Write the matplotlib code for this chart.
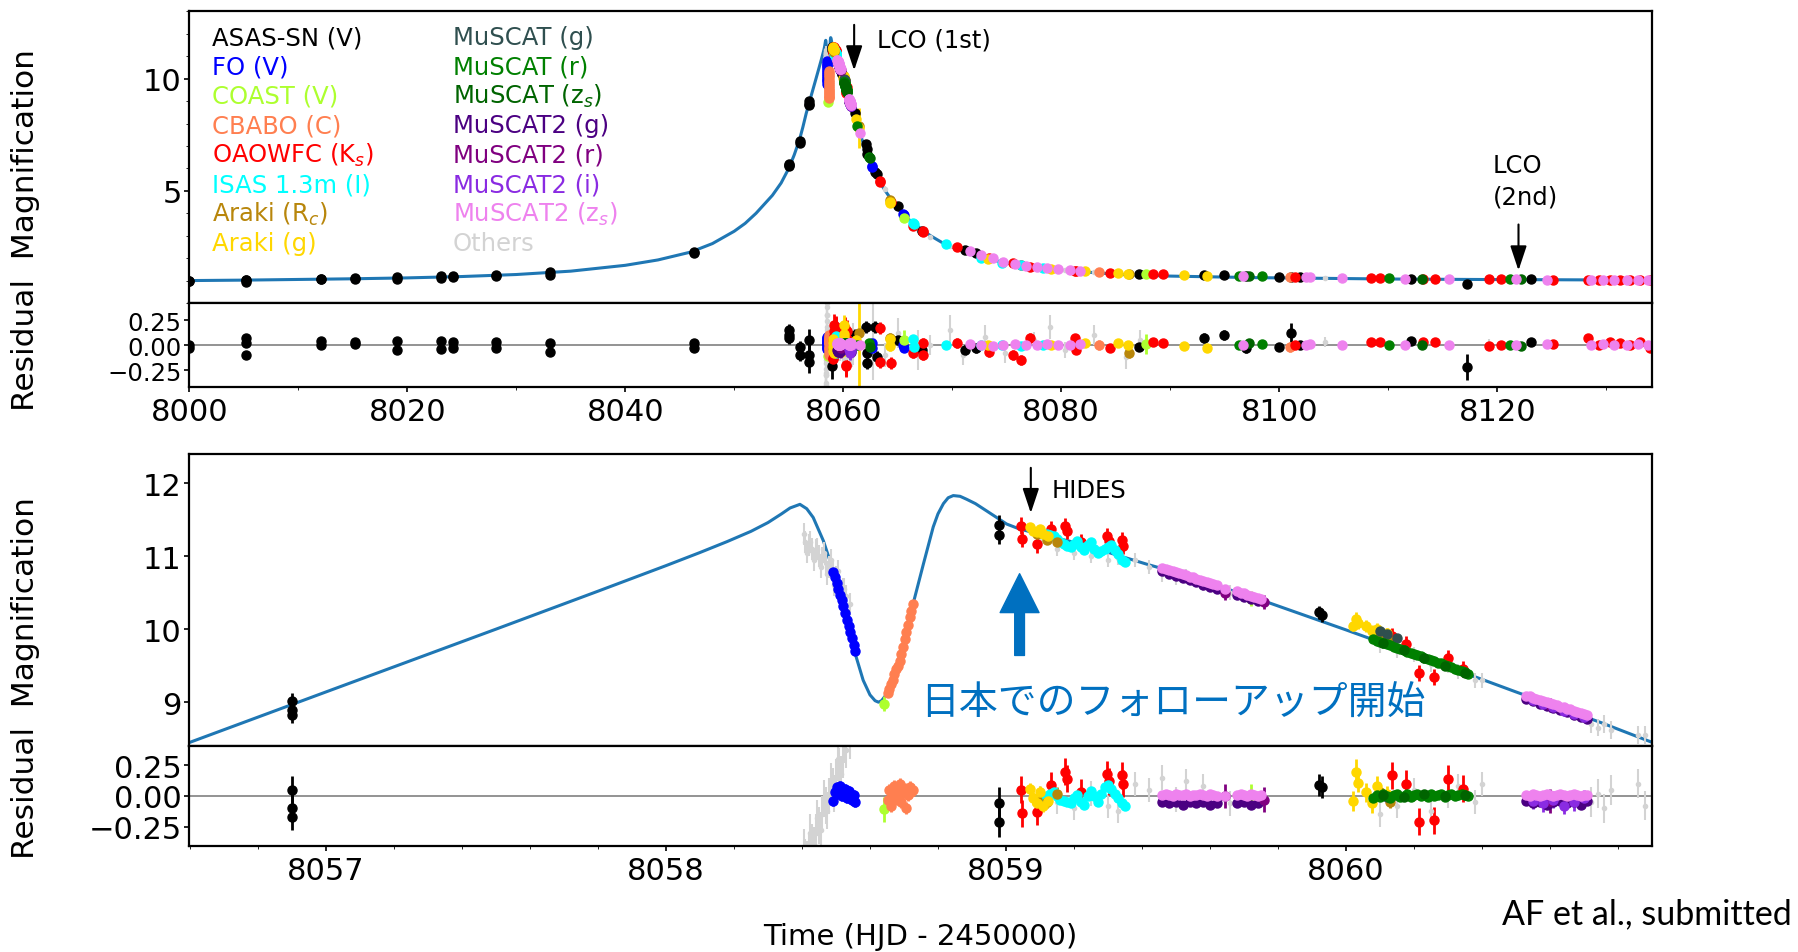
import matplotlib
matplotlib.use('Agg')
import matplotlib.pyplot as plt
from matplotlib.ticker import MultipleLocator

plt.rcParams['font.family'] = ['DejaVu Sans', 'Noto Sans CJK JP']

# ---- model light curve ----
early_t = [8000, 8005, 8010, 8015, 8020, 8025, 8030, 8035, 8040, 8043, 8046, 8048, 8050, 8051, 8052,
           8053.5, 8054.3, 8055, 8055.5, 8056, 8056.3]
early_a = [1.00, 1.02, 1.05, 1.08, 1.12, 1.18, 1.27, 1.42, 1.68, 1.92, 2.27, 2.65, 3.20, 3.55, 4.00,
           4.80, 5.35, 6.00, 6.60, 7.30, 7.85]
peak_t = [8056.60, 8057.00, 8057.50, 8057.80, 8058.00, 8058.10, 8058.18, 8058.25, 8058.30, 8058.34,
          8058.365, 8058.394, 8058.414, 8058.433, 8058.463, 8058.492, 8058.521, 8058.551, 8058.580,
          8058.600, 8058.615, 8058.625, 8058.634, 8058.654, 8058.688, 8058.727, 8058.757, 8058.786,
          8058.800, 8058.816, 8058.830, 8058.845, 8058.865, 8058.884, 8058.910, 8058.943, 8059.002,
          8059.041, 8059.120, 8059.218, 8059.316, 8059.414, 8059.512, 8059.750, 8060.000, 8060.250,
          8060.500, 8060.750, 8060.900]
peak_a = [8.45, 9.14, 10.00, 10.52, 10.87, 11.05, 11.20, 11.34, 11.46, 11.58,
          11.66, 11.71, 11.65, 11.53, 11.21, 10.80, 10.39, 9.75, 9.30,
          9.10, 9.02, 9.00, 9.02, 9.14, 9.57, 10.35, 10.89, 11.40,
          11.58, 11.72, 11.80, 11.83, 11.82, 11.78, 11.72, 11.62, 11.44,
          11.37, 11.28, 11.17, 11.03, 10.89, 10.76, 10.40, 9.99, 9.57,
          9.14, 8.72, 8.45]
late_t = [8061.5, 8062.0, 8062.6, 8063.2, 8063.9, 8065.0, 8066.2, 8068.0, 8069.4, 8071.0, 8072.6,
          8076.0, 8079.0, 8085.5, 8090.0, 8098.0, 8110.0, 8117.6, 8134.5]
late_a = [7.60, 6.90, 6.15, 5.50, 4.97, 4.20, 3.64, 3.00, 2.60, 2.30, 2.01,
          1.70, 1.49, 1.27, 1.20, 1.13, 1.07, 1.05, 1.02]

# ---- photometry: time, magnification, residual, error ----
asas_t = [8000.0, 8000.0, 8005.2, 8005.2, 8005.2, 8012.1, 8012.1, 8015.2, 8015.2, 8019.1, 8019.1,
          8023.1, 8023.1, 8024.2, 8024.2, 8028.1, 8028.1, 8033.1, 8033.1, 8046.3, 8046.3,
          8055.05, 8055.05, 8055.05, 8056.03, 8056.03, 8056.90, 8056.90, 8056.90, 8058.98, 8058.98,
          8059.92, 8059.93, 8061.07, 8062.05, 8062.15, 8062.2, 8062.95, 8063.06, 8065.06, 8067.2,
          8071.2, 8072.2, 8087.1, 8093.1, 8094.95, 8096.96, 8100.0, 8101.1, 8101.9, 8112.1, 8117.2, 8123.1]
asas_a = [1.00, 0.99, 1.04, 1.02, 0.94, 1.07, 1.05, 1.10, 1.08, 1.14, 1.08,
          1.20, 1.13, 1.20, 1.15, 1.27, 1.20, 1.37, 1.27, 2.27, 2.22,
          6.20, 6.15, 6.10, 7.22, 7.15, 9.02, 8.89, 8.82, 11.43, 11.29,
          10.23, 10.19, 8.45, 7.10, 6.85, 6.65, 5.85, 5.75, 4.32, 3.20,
          2.38, 2.22, 1.30, 1.25, 1.24, 1.21, 1.17, 1.18, 1.16, 1.08, 0.86, 1.05]
asas_r = [0.00, -0.03, 0.07, 0.02, -0.10, 0.04, 0.00, 0.03, 0.01, 0.04, -0.05,
          0.04, -0.04, 0.03, -0.03, 0.03, -0.03, 0.02, -0.07, 0.02, -0.03,
          0.15, 0.10, 0.07, -0.02, -0.10, 0.05, -0.10, -0.17, -0.06, -0.21,
          0.09, 0.07, 0.10, 0.18, -0.08, -0.18, 0.18, -0.12, 0.05, -0.05,
          -0.05, -0.03, -0.02, 0.07, 0.10, -0.03, -0.02, 0.12, 0.00, 0.04, -0.22, 0.03]
asas_e = [0.03, 0.03, 0.03, 0.03, 0.03, 0.03, 0.03, 0.03, 0.03, 0.03, 0.03,
          0.03, 0.03, 0.03, 0.03, 0.03, 0.03, 0.03, 0.03, 0.03, 0.03,
          0.06, 0.06, 0.06, 0.06, 0.06, 0.11, 0.11, 0.11, 0.13, 0.13,
          0.09, 0.09, 0.06, 0.06, 0.06, 0.06, 0.06, 0.06, 0.05, 0.05,
          0.05, 0.05, 0.04, 0.05, 0.05, 0.05, 0.04, 0.10, 0.04, 0.04, 0.13, 0.04]

fo_t = [8058.492, 8058.497, 8058.502, 8058.507, 8058.512, 8058.517, 8058.522, 8058.527, 8058.532,
        8058.537, 8058.542, 8058.547, 8058.552, 8058.556, 8062.60, 8062.65, 8065.50, 8065.55]
fo_a = [10.78, 10.71, 10.63, 10.55, 10.47, 10.40, 10.32, 10.22, 10.13,
        10.04, 9.96, 9.88, 9.78, 9.70, 6.10, 6.05, 3.95, 3.92]
fo_r = [-0.04, 0.03, 0.07, 0.02, 0.08, 0.00, 0.05, 0.06, -0.02,
        0.04, 0.02, -0.03, 0.01, -0.05, 0.02, -0.03, 0.00, -0.03]
fo_e = 0.04

coast_t = [8058.642, 8059.72, 8065.6, 8087.8]
coast_a = [8.98, 10.42, 3.80, 1.29]
coast_r = [-0.11, 0.00, 0.05, 0.01]
coast_e = 0.10

cbabo_t = [8058.652, 8058.657, 8058.662, 8058.667, 8058.672, 8058.677, 8058.682, 8058.687, 8058.692,
           8058.697, 8058.702, 8058.707, 8058.712, 8058.717, 8058.722, 8058.727, 8083.5, 8101.0]
cbabo_a = [9.13, 9.18, 9.25, 9.31, 9.38, 9.45, 9.50, 9.57, 9.66,
           9.76, 9.86, 9.96, 10.06, 10.16, 10.25, 10.34, 1.36, 1.17]
cbabo_r = [-0.03, 0.05, -0.08, 0.02, 0.08, -0.02, 0.04, 0.10, -0.05,
           0.03, 0.06, -0.10, 0.01, 0.07, 0.03, 0.05, 0.00, -0.02]
cbabo_e = 0.05

oao_t = [8059.043, 8059.047, 8059.092, 8059.133, 8059.175, 8059.180, 8059.220, 8059.298, 8059.302,
         8059.340, 8059.345, 8060.135, 8060.175, 8060.215, 8060.258, 8060.300, 8060.343,
         8063.37, 8063.40, 8064.4, 8066.4, 8067.3, 8067.35, 8070.4, 8073.4, 8075.6, 8076.3, 8077.1,
         8081.3, 8081.35, 8084.5, 8088.4, 8089.3, 8101.4, 8108.4, 8109.2, 8113.2, 8114.3, 8119.2,
         8120.3, 8125.1, 8128.3, 8129.3, 8130.3, 8131.3, 8132.2, 8133.1, 8134.0]
oao_a = [11.42, 11.24, 11.16, 11.37, 11.41, 11.34, 11.20, 11.28, 11.21,
         11.22, 11.14, 9.91, 9.79, 9.40, 9.35, 9.61, 9.45,
         5.45, 5.40, 4.52, 3.45, 3.20, 3.15, 2.50, 2.00, 1.78, 1.70, 1.62,
         1.43, 1.41, 1.34, 1.29, 1.28, 1.16, 1.11, 1.10, 1.08, 1.07, 1.05,
         1.05, 1.04, 1.04, 1.03, 1.03, 1.03, 1.03, 1.03, 1.02]
oao_r = [0.05, -0.14, -0.13, 0.09, 0.20, 0.14, 0.03, 0.18, 0.12,
         0.17, 0.10, 0.17, 0.10, -0.21, -0.20, 0.14, 0.06,
         0.17, -0.17, -0.18, -0.08, 0.02, -0.10, 0.02, -0.07, -0.10, -0.15, 0.07,
         0.07, -0.05, -0.03, 0.03, 0.02, 0.00, 0.03, 0.03, 0.03, 0.03, -0.01,
         0.00, 0.01, 0.07, 0.00, 0.03, 0.02, 0.00, 0.03, -0.03]
oao_e = [0.11, 0.11, 0.11, 0.11, 0.11, 0.11, 0.11, 0.11, 0.11,
         0.11, 0.11, 0.11, 0.11, 0.11, 0.11, 0.11, 0.11,
         0.06, 0.06, 0.06, 0.05, 0.05, 0.05, 0.05, 0.05, 0.05, 0.05, 0.05,
         0.04, 0.04, 0.04, 0.04, 0.04, 0.04, 0.04, 0.04, 0.04, 0.04, 0.04,
         0.04, 0.04, 0.04, 0.04, 0.04, 0.04, 0.04, 0.04, 0.04]

isas_t = [8059.11, 8059.12, 8059.13, 8059.14, 8059.15, 8059.16, 8059.17, 8059.18, 8059.19, 8059.20,
          8059.21, 8059.22, 8059.23, 8059.24, 8059.25, 8059.26, 8059.27, 8059.28, 8059.29, 8059.30,
          8059.31, 8059.32, 8059.33, 8059.34, 8059.35,
          8066.40, 8066.45, 8069.4, 8072.6, 8074.6, 8076.3, 8078.3]
isas_a = [11.31, 11.30, 11.29, 11.28, 11.23, 11.19, 11.17, 11.14, 11.12, 11.17,
          11.21, 11.12, 11.09, 11.15, 11.19, 11.10, 11.05, 11.07, 11.10, 11.13,
          11.15, 11.08, 11.03, 10.95, 10.92,
          3.55, 3.50, 2.62, 2.02, 1.80, 1.68, 1.55]
isas_r = [-0.02, 0.00, 0.02, 0.03, 0.00, -0.03, -0.04, -0.05, -0.06, -0.02,
          0.01, -0.05, -0.07, 0.00, 0.04, 0.00, -0.05, 0.02, 0.07, 0.09,
          0.06, 0.02, -0.02, -0.06, -0.08,
          0.06, -0.02, 0.00, 0.00, 0.00, -0.01, 0.00]
isas_e = 0.03

arc_t = [8059.09, 8059.12, 8059.15, 8060.10, 8060.13, 8061.4, 8064.3, 8086.2]
arc_a = [11.30, 11.22, 11.19, 9.93, 9.84, 7.90, 4.60, 1.28]
arc_r = [-0.03, -0.05, 0.02, 0.03, -0.05, 0.12, 0.07, -0.08]
arc_e = 0.05

arg_t = [8059.070, 8059.080, 8059.090, 8059.100, 8059.110, 8059.125, 8060.020, 8060.030, 8060.035,
         8060.060, 8060.075, 8060.090, 8060.120, 8061.20, 8061.41, 8064.25, 8064.30, 8073.3,
         8079.1, 8082.2, 8085.2, 8086.1, 8091.3, 8093.4]
arg_a = [11.40, 11.35, 11.33, 11.37, 11.30, 11.28, 10.05, 10.14, 10.08,
         10.04, 9.98, 10.00, 9.95, 8.20, 7.80, 4.52, 4.48, 1.95,
         1.50, 1.41, 1.35, 1.31, 1.25, 1.22]
arg_r = [0.06, -0.02, -0.06, 0.03, -0.08, -0.04, -0.04, 0.20, 0.11,
         0.03, -0.06, 0.08, 0.02, 0.05, 0.00, 0.06, -0.01, 0.00,
         0.00, 0.02, 0.02, 0.00, -0.01, -0.03]
arg_e = [0.05, 0.05, 0.05, 0.05, 0.05, 0.05, 0.08, 0.10, 0.08,
         0.08, 0.08, 0.08, 0.06, 0.06, 0.90, 0.05, 0.05, 0.04,
         0.04, 0.04, 0.04, 0.04, 0.04, 0.04]

msg_t = [8060.10, 8060.12, 8060.15]
msg_a = [9.97, 9.93, 9.88]
msg_r = [0.00, -0.01, 0.01]
msg_e = 0.03

msr_t = [8060.08, 8060.09, 8060.10, 8060.11, 8060.12, 8060.13, 8060.14, 8060.15, 8060.16, 8060.17,
         8060.18, 8060.19, 8060.20, 8060.21, 8060.22, 8060.23, 8060.24, 8060.25, 8060.26, 8060.27,
         8060.28, 8060.29, 8060.30, 8060.31, 8060.32, 8060.33, 8060.34, 8060.35, 8060.36,
         8061.3, 8062.4, 8096.3, 8098.4, 8110.1, 8121.2]
msr_a = [9.86, 9.84, 9.83, 9.81, 9.79, 9.78, 9.76, 9.74, 9.73, 9.71,
         9.69, 9.68, 9.66, 9.64, 9.63, 9.61, 9.59, 9.58, 9.56, 9.54,
         9.53, 9.51, 9.49, 9.48, 9.46, 9.44, 9.43, 9.41, 9.39,
         7.90, 6.50, 1.20, 1.19, 1.10, 1.05]
msr_r = [-0.02, 0.01, -0.01, 0.02, 0.00, -0.02, 0.01, 0.02, -0.01, 0.00,
         0.02, -0.01, 0.01, 0.02, 0.00, 0.01, -0.01, 0.02, 0.00, 0.01,
         0.02, -0.01, 0.01, 0.02, 0.00, 0.01, 0.02, 0.01, 0.00,
         0.00, 0.02, 0.00, 0.01, 0.00, 0.00]
msr_e = 0.02

mzs_t = [8060.11, 8060.17, 8060.23, 8060.29, 8060.35, 8062.45, 8097.2, 8113.1, 8122.2]
mzs_a = [9.81, 9.71, 9.61, 9.50, 9.40, 6.45, 1.20, 1.09, 1.05]
mzs_r = [0.01, -0.01, 0.02, 0.00, 0.01, -0.02, 0.02, 0.00, -0.01]
mzs_e = 0.02

m2g_t = [8059.46, 8059.48, 8059.50, 8059.52, 8059.54, 8059.56, 8059.58, 8059.60, 8059.62,
         8059.68, 8059.70, 8059.72, 8059.74,
         8060.53, 8060.55, 8060.57, 8060.59, 8060.61, 8060.63, 8060.65, 8060.67, 8060.69, 8060.71]
m2g_a = [10.79, 10.76, 10.73, 10.70, 10.67, 10.64, 10.61, 10.58, 10.55,
         10.47, 10.44, 10.41, 10.38,
         9.04, 9.01, 8.98, 8.95, 8.92, 8.89, 8.86, 8.83, 8.80, 8.77]
m2g_r = [-0.05, -0.06, -0.05, -0.07, -0.05, -0.06, -0.05, -0.07, -0.06,
         -0.06, -0.05, -0.07, -0.06,
         -0.04, -0.06, -0.05, -0.07, -0.05, -0.04, -0.06, -0.05, -0.07, -0.04]
m2g_e = 0.03

m2r_t = [8059.645, 8059.76, 8060.60]
m2r_a = [10.50, 10.37, 8.96]
m2r_r = [0.00, -0.03, -0.04]
m2r_e = 0.10

m2i_t = [8060.55, 8060.58, 8060.61, 8060.64, 8060.67, 8060.70]
m2i_a = [9.03, 8.98, 8.94, 8.88, 8.84, 8.80]
m2i_r = [-0.04, -0.06, -0.03, -0.08, -0.05, -0.02]
m2i_e = 0.07

m2z_t = [8059.46, 8059.47, 8059.48, 8059.49, 8059.50, 8059.51, 8059.52, 8059.53, 8059.54, 8059.55,
         8059.56, 8059.57, 8059.58, 8059.59, 8059.60, 8059.61, 8059.62, 8059.645,
         8059.68, 8059.69, 8059.70, 8059.71, 8059.72, 8059.73, 8059.74, 8059.75,
         8060.53, 8060.54, 8060.55, 8060.56, 8060.57, 8060.58, 8060.59, 8060.60, 8060.61, 8060.62,
         8060.63, 8060.64, 8060.65, 8060.66, 8060.67, 8060.68, 8060.69, 8060.70, 8060.71,
         8061.5, 8071.6, 8072.6, 8073.7, 8074.7, 8075.8, 8076.8, 8077.8, 8078.7, 8079.7, 8080.8,
         8081.7, 8096.7, 8102.5, 8102.8, 8105.8, 8111.5, 8115.6, 8121.7, 8124.6, 8128.6, 8129.7,
         8130.7, 8131.9, 8132.9, 8133.8]
m2z_a = [10.84, 10.83, 10.81, 10.80, 10.78, 10.77, 10.75, 10.74, 10.72, 10.71,
         10.69, 10.68, 10.66, 10.65, 10.63, 10.62, 10.60, 10.55,
         10.52, 10.50, 10.49, 10.47, 10.46, 10.44, 10.43, 10.41,
         9.09, 9.08, 9.06, 9.05, 9.03, 9.02, 9.00, 8.99, 8.97, 8.96,
         8.94, 8.93, 8.91, 8.90, 8.88, 8.87, 8.85, 8.84, 8.82,
         7.60, 2.30, 2.15, 2.00, 1.85, 1.75, 1.67, 1.60, 1.55, 1.50, 1.46,
         1.43, 1.20, 1.16, 1.16, 1.13, 1.09, 1.06, 1.05, 1.04, 1.03, 1.03,
         1.03, 1.03, 1.03, 1.02]
m2z_r = [0.01, 0.02, 0.01, 0.00, 0.02, 0.01, 0.01, 0.02, 0.00, 0.01,
         0.01, 0.02, 0.01, 0.00, 0.02, 0.01, 0.00, 0.00,
         0.01, 0.02, 0.01, 0.00, 0.02, 0.01, 0.00, 0.01,
         0.01, 0.00, 0.02, 0.01, 0.00, 0.01, 0.02, 0.01, 0.00, 0.01,
         0.02, 0.01, 0.00, 0.01, 0.02, 0.01, 0.00, 0.01, 0.01,
         0.00, 0.01, 0.00, -0.01, 0.00, 0.01, 0.00, 0.00, 0.01, 0.00, 0.00,
         0.01, 0.00, 0.00, 0.01, 0.00, 0.00, 0.00, 0.00, 0.01, 0.00, 0.01,
         0.00, 0.00, 0.01, 0.00]
m2z_e = 0.02

oth_t = [8058.405, 8058.41, 8058.415, 8058.42, 8058.425, 8058.43, 8058.435, 8058.44, 8058.445,
         8058.45, 8058.455, 8058.46, 8058.465, 8058.47, 8058.475, 8058.48, 8058.485, 8058.49,
         8058.495, 8058.50, 8058.505, 8058.51, 8058.515, 8058.52, 8058.525, 8058.53, 8058.54,
         8059.10, 8059.15, 8059.20, 8059.25, 8059.30, 8059.33, 8059.38, 8059.42, 8059.46, 8059.50,
         8059.53, 8059.58, 8059.66, 8060.10, 8060.15, 8060.20, 8060.25, 8060.30, 8060.33, 8060.38,
         8060.40, 8060.72, 8060.74, 8060.76, 8060.78, 8060.86, 8060.88,
         8062.7, 8063.8, 8065.0, 8066.9, 8068.0, 8069.8, 8071.0, 8073.0, 8074.8, 8077.5, 8079.0,
         8080.3, 8083.0, 8085.9, 8087.2, 8104.2, 8119.2, 8128.4]
oth_a = [11.30, 11.20, 11.05, 11.15, 11.20, 11.10, 10.95, 11.08, 11.10,
         11.00, 10.85, 10.98, 11.05, 10.90, 10.75, 10.85, 10.95, 10.80,
         10.60, 10.72, 10.80, 10.65, 10.40, 10.55, 10.55, 10.45, 10.35,
         11.20, 11.10, 11.05, 11.00, 10.95, 10.98, 10.95, 10.85, 10.75, 10.70,
         10.72, 10.62, 10.50, 9.78, 9.70, 9.65, 9.52, 9.50, 9.42, 9.30,
         9.30, 8.70, 8.65, 8.70, 8.62, 8.55, 8.55,
         6.00, 5.10, 4.30, 3.30, 2.95, 2.55, 2.35, 2.00, 1.80, 1.60, 1.50,
         1.46, 1.38, 1.30, 1.28, 1.13, 1.05, 1.04]
oth_r = [-0.42, -0.50, -0.52, -0.45, -0.30, -0.38, -0.40, -0.30, -0.18,
         -0.24, -0.28, -0.15, -0.02, -0.08, -0.12, 0.00, 0.12, 0.08,
         0.02, 0.15, 0.30, 0.24, 0.18, 0.30, 0.42, 0.38, 0.45,
         -0.02, -0.05, -0.10, 0.02, -0.08, -0.12, 0.10, 0.05, 0.15, -0.03,
         0.12, 0.08, -0.06, -0.15, -0.08, 0.05, -0.12, 0.00, 0.08, -0.05,
         0.10, -0.05, 0.02, -0.10, 0.05, 0.10, -0.08,
         0.05, -0.10, 0.12, -0.05, 0.00, 0.15, -0.10, 0.08, -0.08, 0.05, 0.18,
         -0.05, 0.10, -0.12, 0.05, 0.03, 0.01, 0.03]
oth_e = [0.15, 0.15, 0.15, 0.15, 0.15, 0.15, 0.15, 0.15, 0.15,
         0.15, 0.15, 0.15, 0.15, 0.15, 0.15, 0.15, 0.15, 0.15,
         0.15, 0.15, 0.15, 0.15, 0.15, 0.15, 0.15, 0.15, 0.15,
         0.10, 0.10, 0.10, 0.10, 0.10, 0.10, 0.10, 0.10, 0.10, 0.10,
         0.10, 0.10, 0.10, 0.10, 0.10, 0.10, 0.10, 0.10, 0.10, 0.10,
         0.10, 0.12, 0.12, 0.12, 0.12, 0.12, 0.12,
         0.40, 0.12, 0.15, 0.20, 0.10, 0.15, 0.10, 0.12, 0.10, 0.08, 0.12,
         0.08, 0.10, 0.12, 0.10, 0.05, 0.05, 0.05]

labels = ['ASAS-SN (V)', 'FO (V)', 'COAST (V)', 'CBABO (C)', 'OAOWFC (K$_s$)', 'ISAS 1.3m (I)',
          'Araki (R$_c$)', 'Araki (g)', 'MuSCAT (g)', 'MuSCAT (r)', 'MuSCAT (z$_s$)',
          'MuSCAT2 (g)', 'MuSCAT2 (r)', 'MuSCAT2 (i)', 'MuSCAT2 (z$_s$)', 'Others']
colors = ['black', 'blue', 'greenyellow', 'coral', 'red', 'cyan', 'darkgoldenrod', 'gold',
          'darkslategray', 'green', 'darkgreen', 'indigo', 'purple', 'blueviolet', 'violet', 'lightgray']
sets = [(asas_t, asas_a, asas_r, asas_e), (fo_t, fo_a, fo_r, fo_e), (coast_t, coast_a, coast_r, coast_e),
        (cbabo_t, cbabo_a, cbabo_r, cbabo_e), (oao_t, oao_a, oao_r, oao_e), (isas_t, isas_a, isas_r, isas_e),
        (arc_t, arc_a, arc_r, arc_e), (arg_t, arg_a, arg_r, arg_e), (msg_t, msg_a, msg_r, msg_e),
        (msr_t, msr_a, msr_r, msr_e), (mzs_t, mzs_a, mzs_r, mzs_e), (m2g_t, m2g_a, m2g_r, m2g_e),
        (m2r_t, m2r_a, m2r_r, m2r_e), (m2i_t, m2i_a, m2i_r, m2i_e), (m2z_t, m2z_a, m2z_r, m2z_e),
        (oth_t, oth_a, oth_r, oth_e)]

model_t = early_t + peak_t + late_t
model_a = early_a + peak_a + late_a

fig = plt.figure(figsize=(17.99, 9.53), dpi=100)
ax1 = fig.add_axes([0.1052, 0.681, 0.8131, 0.306])
ax1r = fig.add_axes([0.1052, 0.5926, 0.8131, 0.0884], sharex=ax1)
ax2 = fig.add_axes([0.1052, 0.2162, 0.8131, 0.3064])
ax2r = fig.add_axes([0.1052, 0.1112, 0.8131, 0.105], sharex=ax2)


def draw_data(axm, axr):
    # "Others" go underneath everything else
    order = [15] + list(range(15))
    for i in order:
        t, a, r, e = sets[i]
        ms = 3 if i == 15 else 6.5
        lw = 1.5 if i == 15 else 2
        axm.errorbar(t, a, yerr=e, fmt='o', color=colors[i], ms=ms, elinewidth=lw, capsize=0, zorder=2)
        axr.errorbar(t, r, yerr=e, fmt='o', color=colors[i], ms=ms, elinewidth=lw, capsize=0, zorder=2)
    axr.axhline(0, color='gray', lw=1.2, zorder=1)


for ax, t, a in [(ax1, model_t, model_a), (ax2, peak_t, peak_a)]:
    ax.plot(t, a, color='#1f77b4', lw=2.2, zorder=1)
draw_data(ax1, ax1r)
draw_data(ax2, ax2r)

ax1.set_xlim(8000, 8134.2)
ax1.set_ylim(0, 13)
ax1.set_yticks([5, 10])
ax1.yaxis.set_minor_locator(MultipleLocator(1))
ax1r.set_ylim(-0.42, 0.42)
ax1r.xaxis.set_major_locator(MultipleLocator(20))
ax1r.xaxis.set_minor_locator(MultipleLocator(10))

ax2.set_xlim(8056.598, 8060.90)
ax2.set_ylim(8.4, 12.4)
ax2.set_yticks([9, 10, 11, 12])
ax2r.set_ylim(-0.41, 0.41)
ax2r.xaxis.set_major_locator(MultipleLocator(1))
ax2r.xaxis.set_minor_locator(MultipleLocator(0.2))

for ax in [ax1r, ax2r]:
    ax.set_yticks([-0.25, 0, 0.25])
for ax in [ax1, ax2]:
    ax.tick_params(axis='x', which='both', bottom=False, labelbottom=False)
for ax in [ax1, ax1r, ax2, ax2r]:
    ax.tick_params(labelsize=22, width=1.2)
    ax.tick_params(axis='y', pad=2)
    for s in ax.spines.values():
        s.set_linewidth(1.6)
# the upper residual strip is short: smaller labels keep them apart
ax1r.tick_params(axis='y', labelsize=17.5)

# instrument key as coloured text
for i, (lab, col) in enumerate(zip(labels, colors)):
    ax1.text(0.0155 + (i // 8) * 0.1645, 0.912 - (i % 8) * 0.1008, lab, color=col,
             fontsize=17.5, transform=ax1.transAxes, va='center')

arrow = dict(arrowstyle='-|>,head_length=0.6,head_width=0.2', color='black', lw=1.5,
             mutation_scale=25, shrinkA=0, shrinkB=0)
ax1.annotate('', xy=(8061.0, 10.37), xytext=(8061.0, 12.4), arrowprops=arrow)
ax1.text(8063.1, 11.75, 'LCO (1st)', fontsize=17.5, va='center')
ax1.annotate('', xy=(8121.95, 1.45), xytext=(8121.95, 3.5), arrowprops=arrow)
ax1.text(8119.6, 5.45, 'LCO\n(2nd)', fontsize=17.5, va='center', linespacing=1.35)

ax2.annotate('', xy=(8059.073, 11.59), xytext=(8059.073, 12.21), arrowprops=arrow)
ax2.text(8059.134, 11.91, 'HIDES', fontsize=17.5, va='center')

ax2.annotate('', xy=(8059.04, 10.76), xytext=(8059.04, 9.64),
             arrowprops=dict(width=7, headwidth=28, headlength=28, color='#0070C0', shrink=0))
ax2.text(8059.49, 8.99, '日本でのフォローアップ開始', fontsize=28, color='#0070C0',
         family='Noto Sans CJK JP', ha='center', va='center')

fig.text(0.014, 0.759, 'Residual  Magnification', rotation=90, fontsize=22.5, ha='center', va='center')
fig.text(0.014, 0.2886, 'Residual  Magnification', rotation=90, fontsize=22.5, ha='center', va='center')
fig.text(0.5117, 0.017, 'Time (HJD - 2450000)', fontsize=21, ha='center', va='center')
fig.text(0.996, 0.041, 'AF et al., submitted', fontsize=24.5, ha='right', va='center', family='Lato')

fig.savefig('out.png', dpi=100)
